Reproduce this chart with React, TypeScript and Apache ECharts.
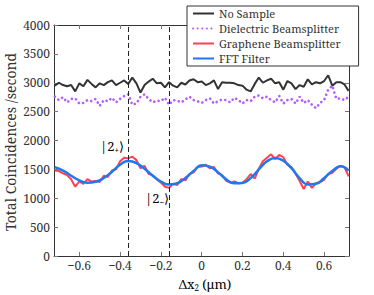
import React, { useEffect, useRef } from "react";
import * as echarts from "echarts";

// sampling grid for the measured series (Δx2 in µm)
const X_START = -0.72;
const X_STEP = 0.02;
// FFT filter sampled coarser
const FFT_STEP = 0.04;

const noSample = [
  2950, 3000, 2960, 2940, 2960, 2850, 2990, 2940, 3050, 2980, 2920, 2990, 2960, 3010, 3040, 2960, 3000, 3040, 2980,
  3090, 2990, 2830, 2960, 3020, 3070, 2990, 3000, 2920, 3010, 2950, 2920, 3000, 2970, 3040, 3060, 3010, 3020, 2960,
  2990, 3040, 2890, 3010, 3000, 3000, 2990, 2960, 2950, 2880, 2850, 2980, 3090, 3000, 3040, 3070, 2990, 3010, 2880,
  3030, 2990, 2890, 2960, 2930, 3060, 2970, 3010, 2990, 3030, 3130, 2950, 3010, 3010, 2970, 2860,
];

const dielectric = [
  2760, 2700, 2750, 2660, 2720, 2730, 2640, 2650, 2700, 2680, 2720, 2600, 2700, 2680, 2740, 2660, 2720, 2770, 2800,
  2620, 2640, 2760, 2800, 2720, 2660, 2690, 2680, 2740, 2620, 2700, 2690, 2660, 2710, 2760, 2700, 2680, 2650, 2700,
  2730, 2640, 2680, 2710, 2700, 2660, 2740, 2700, 2640, 2700, 2680, 2760, 2780, 2730, 2760, 2700, 2660, 2770, 2640,
  2700, 2720, 2640, 2760, 2650, 2700, 2620, 2560, 2650, 2700, 2880, 2950, 2720, 2730, 2700, 2760,
];

const graphene = [
  1480, 1470, 1430, 1400, 1330, 1200, 1290, 1250, 1330, 1290, 1300, 1280, 1390, 1370, 1480, 1500, 1640, 1700, 1690,
  1720, 1660, 1520, 1560, 1420, 1400, 1330, 1270, 1200, 1180, 1250, 1230, 1330, 1310, 1420, 1450, 1540, 1550, 1580,
  1520, 1540, 1430, 1400, 1300, 1270, 1290, 1260, 1270, 1330, 1420, 1340, 1510, 1640, 1700, 1760, 1680, 1750, 1710,
  1580, 1540, 1430, 1300, 1160, 1290, 1180, 1260, 1280, 1320, 1420, 1440, 1510, 1560, 1540, 1380,
];

const fftFilter = [
  1540, 1480, 1390, 1310, 1270, 1285, 1350, 1460, 1580, 1645, 1610, 1510, 1390, 1290, 1237, 1260, 1350, 1470, 1570,
  1545, 1450, 1330, 1258, 1265, 1350, 1500, 1640, 1697, 1650, 1520, 1350, 1240, 1250, 1350, 1470, 1553, 1480,
];

const xTicks = [-0.6, -0.4, -0.2, 0, 0.2, 0.4, 0.6];
const ketLines = [-0.365, -0.16];
const seriesNames = ["No Sample", "Dielectric Beamsplitter", "Graphene Beamsplitter", "FFT Filter"];

const FONT = "Noto Serif";
const TXT = "#333";

function toPairs(vals: number[], step: number) {
  return vals.map((v, i) => [+(X_START + i * step).toFixed(4), v]);
}

function fmtX(v: number) {
  if (Math.abs(v) < 1e-9) return "0";
  const s = Math.abs(v).toFixed(1);
  return v < 0 ? "\u2212" + s : s;
}

export default function App() {
  const ref = useRef<HTMLDivElement>(null);
  useEffect(() => {
    if (!ref.current) return;
    const chart = echarts.init(ref.current, null, { renderer: "svg" });
    const axisColor = "#333";
    const richKet = {
      a: { fontFamily: FONT, fontSize: 13, color: TXT, lineHeight: 14 },
      s: { fontFamily: FONT, fontSize: 8, color: TXT, lineHeight: 14, verticalAlign: "bottom" },
    };
    chart.setOption({
      animation: false,
      backgroundColor: "#fff",
      textStyle: { fontFamily: FONT },
      grid: { left: 54, right: 25, top: 25, bottom: 39 },
      xAxis: [
        {
          type: "value",
          min: -0.724,
          max: 0.722,
          axisLine: { show: true, onZero: false, lineStyle: { color: axisColor, width: 1 } },
          axisTick: { show: true, inside: true, length: 4, customValues: xTicks, lineStyle: { color: "#777" } },
          axisLabel: {
            customValues: xTicks,
            formatter: (v: number) => fmtX(v),
            fontFamily: FONT,
            fontSize: 12,
            color: TXT,
            margin: 3,
          },
          splitLine: { show: false },
        },
        {
          type: "value",
          position: "top",
          min: -0.724,
          max: 0.722,
          axisLine: { show: true, onZero: false, lineStyle: { color: axisColor, width: 1 } },
          axisTick: { show: true, inside: true, length: 4, customValues: xTicks, lineStyle: { color: "#777" } },
          axisLabel: { show: false },
          splitLine: { show: false },
        },
      ],
      yAxis: [
        {
          type: "value",
          min: 0,
          max: 4000,
          interval: 500,
          axisLine: { show: true, onZero: false, lineStyle: { color: axisColor, width: 1 } },
          axisTick: { show: true, inside: true, length: 4, lineStyle: { color: "#777" } },
          axisLabel: {
            fontFamily: FONT,
            fontSize: 12,
            color: TXT,
            margin: 4,
            formatter: (v: number) => String(v),
          },
          splitLine: { show: false },
        },
        {
          type: "value",
          position: "right",
          min: 0,
          max: 4000,
          interval: 500,
          axisLine: { show: true, onZero: false, lineStyle: { color: axisColor, width: 1 } },
          axisTick: { show: true, inside: true, length: 4, lineStyle: { color: "#777" } },
          axisLabel: { show: false },
          splitLine: { show: false },
        },
      ],
      legend: {
        orient: "vertical",
        left: 187,
        top: 6,
        data: seriesNames,
        backgroundColor: "#fff",
        borderColor: "#333",
        borderWidth: 1,
        borderRadius: 0,
        padding: [2, 18, 2, 5],
        itemWidth: 21,
        itemHeight: 10,
        itemGap: 4,
        itemStyle: { opacity: 0 },
        textStyle: { fontFamily: FONT, fontSize: 11, color: TXT, lineHeight: 11 },
      },
      series: [
        {
          name: seriesNames[0],
          type: "line",
          data: toPairs(noSample, X_STEP),
          showSymbol: false,
          symbol: "none",
          lineStyle: { color: "#333333", width: 2 },
          itemStyle: { color: "#333333" },
          markLine: {
            silent: true,
            symbol: "none",
            label: { show: false },
            lineStyle: { color: "#222", width: 1, type: [5, 3] },
            data: ketLines.map((x) => ({ xAxis: x })),
          },
        },
        {
          name: seriesNames[1],
          type: "line",
          data: toPairs(dielectric, X_STEP),
          showSymbol: false,
          symbol: "none",
          lineStyle: { color: "#b45cff", width: 2.6, type: [0.1, 4.5], cap: "round" },
          itemStyle: { color: "#b45cff" },
        },
        {
          name: seriesNames[2],
          type: "line",
          data: toPairs(graphene, X_STEP),
          showSymbol: false,
          symbol: "none",
          lineStyle: { color: "#ff4050", width: 2 },
          itemStyle: { color: "#ff4050" },
        },
        {
          name: seriesNames[3],
          type: "line",
          data: toPairs(fftFilter, FFT_STEP),
          smooth: true,
          showSymbol: false,
          symbol: "none",
          lineStyle: { color: "#1f78f0", width: 2.5 },
          itemStyle: { color: "#1f78f0" },
        },
      ],
      graphic: [
        {
          type: "text",
          x: 10,
          y: 142,
          rotation: Math.PI / 2,
          style: {
            text: "Total Coincidences /second",
            fontFamily: FONT,
            fontSize: 14,
            fill: TXT,
            align: "center",
            verticalAlign: "middle",
          },
        },
        {
          type: "text",
          x: 205,
          y: 284,
          style: {
            text: "{a|Δx}{s|2}{a| (μm)}",
            align: "center",
            verticalAlign: "middle",
            rich: richKet,
          },
        },
        {
          type: "text",
          x: 112,
          y: 146,
          style: {
            text: "{a||2}{s|+}{a|\u27E9}",
            align: "center",
            verticalAlign: "middle",
            rich: richKet,
          },
        },
        {
          type: "text",
          x: 157,
          y: 198,
          style: {
            text: "{a||2}{s|\u2212}{a|\u27E9}",
            align: "center",
            verticalAlign: "middle",
            rich: richKet,
          },
        },
      ],
    });
    return () => chart.dispose();
  }, []);
  return (
    <div
      ref={ref}
      style={{ position: "fixed", left: 0, top: 0, width: 374, height: 295, background: "#fff" }}
    />
  );
}
